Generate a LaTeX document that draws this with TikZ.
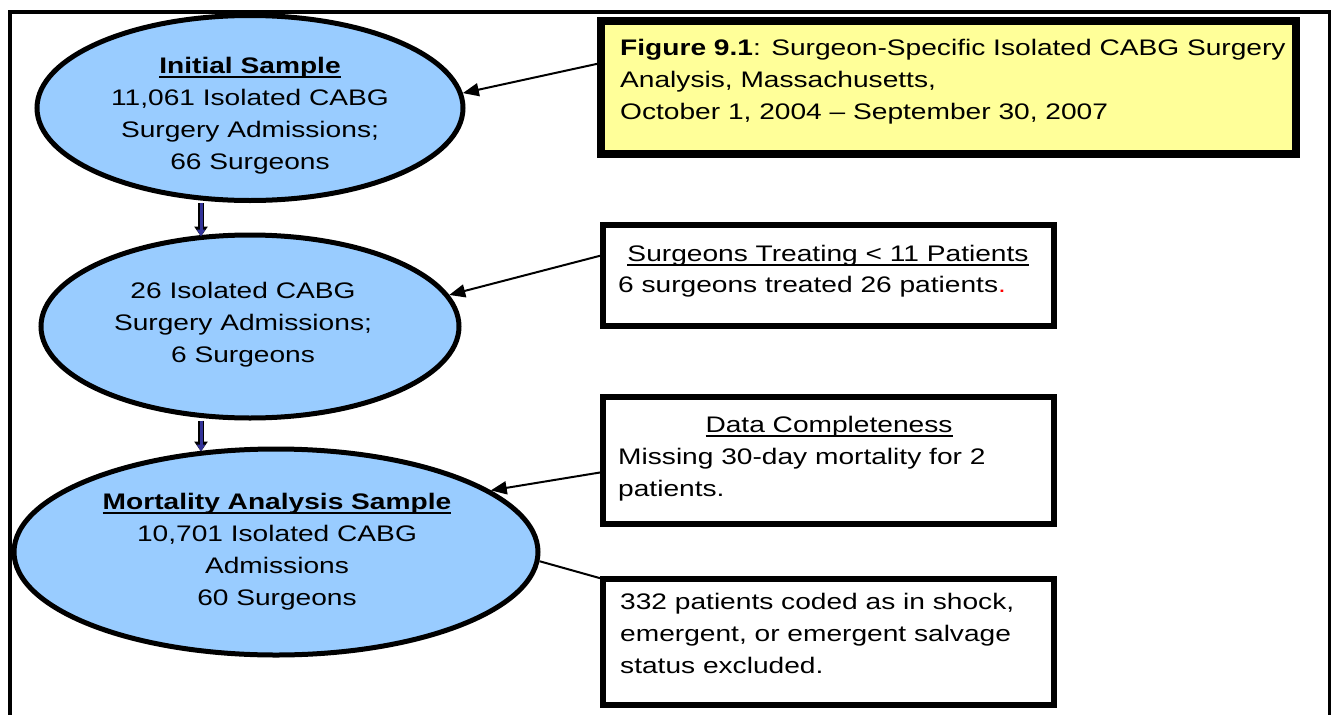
\documentclass[tikz,border=0pt]{standalone}
\usepackage{fontspec}
\setmainfont[FakeStretch=1.25]{Liberation Sans}
\usetikzlibrary{arrows.meta,shapes.geometric}
\definecolor{ellblue}{HTML}{99CCFF}
\definecolor{boxyellow}{HTML}{FFFF99}
\definecolor{flownavy}{HTML}{333399}
\newsavebox\ulbox
\newcommand\myul[1]{\sbox\ulbox{#1}\rlap{\rule[-5pt]{\wd\ulbox}{2pt}}\usebox\ulbox}
\begin{document}
\begin{tikzpicture}[x=1pt,y=-1pt,
  txt/.style={font=\fontsize{22.5}{32}\selectfont},
  ell/.style={ellipse, draw=black, line width=5pt, fill=ellblue, inner sep=0pt},
  infobox/.style={rectangle, draw=black, line width=6pt, fill=white, outer sep=0pt, inner sep=0pt},
  conn/.style={line width=2pt, -{Triangle[length=16pt,width=13pt]}},
  vflow/.style={line width=3pt, draw=flownavy, -{Triangle[length=7pt,width=8pt]},
    preaction={draw=black, line width=6pt, -{Triangle[length=10pt,width=13pt]}}},
  lbl/.style={txt, inner sep=0pt}]
\useasboundingbox (0,0) rectangle (1331,715);
\fill[white] (0,0) rectangle (1331,715);
\draw[line width=4pt] (10,720) -- (10,12) -- (1329.5,12) -- (1329.5,720);

% ellipses
\node[ell, minimum width=426pt, minimum height=185pt] (e1) at (250,108) {};
\node[ell, minimum width=418pt, minimum height=183pt] (e2) at (250,326.5) {};
\node[ell, minimum width=524pt, minimum height=206pt] (e3) at (276,552) {};

% multi-line nodes: base anchor = baseline of the last line
\node[lbl, align=center, anchor=base] (e1t) at (250,169)
  {\myul{\textbf{Initial Sample}}\\11,061 Isolated CABG\\Surgery Admissions;\\66 Surgeons};
\node[lbl, align=center, anchor=base] (e2t) at (243,362)
  {26 Isolated CABG\\Surgery Admissions;\\6 Surgeons};
\node[lbl, align=center, anchor=base] (e3t) at (277,605)
  {\myul{\textbf{Mortality Analysis Sample}}\\10,701 Isolated CABG\\Admissions\\60 Surgeons};

% boxes
\node[infobox, line width=8pt, fill=boxyellow, minimum width=695pt, minimum height=133pt] (yb) at (948.5,87.5) {};
\node[infobox, minimum width=451pt, minimum height=101pt] (b2) at (828.5,275.5) {};
\node[infobox, minimum width=451pt, minimum height=127pt] (b3) at (828.5,460.5) {};
\node[infobox, minimum width=451pt, minimum height=126pt] (b4) at (828.5,642) {};

\node[lbl, align=left, anchor=base west] (ybt) at (620,119)
  {\textbf{Figure 9.1}: Surgeon-Specific Isolated CABG Surgery\\Analysis, Massachusetts,\\October 1, 2004 – September 30, 2007};
\node[lbl, anchor=base] (b2h) at (828,261) {\myul{Surgeons Treating < 11 Patients}};
\node[lbl, anchor=base west] (b2t) at (618,292) {6 surgeons treated 26 patients\textcolor{red}{.}};
\node[lbl, anchor=base] (b3h) at (829,432) {\myul{Data Completeness}};
\node[lbl, align=left, anchor=base west] (b3t) at (618,496) {Missing 30-day mortality for 2\\patients.};
\node[lbl, align=left, anchor=base west] (b4t) at (620,673)
  {332 patients coded as in shock,\\emergent, or emergent salvage\\status excluded.};

% connectors
\draw[conn] ([yshift=-42pt]yb.north west) -- (e1.4);
\draw[conn] ([yshift=-30pt]b2.north west) -- (e2.9);
\draw[conn] ([yshift=-75pt]b3.north west) -- (e3.16);
\draw[line width=2pt] (e3.-2.5) -- (b4.north west);

\draw[vflow] ([xshift=-49pt]e1.south) -- ([xshift=-49pt,yshift=-4pt]e2.north);
\draw[vflow] ([xshift=-49pt]e2.south) -- ([xshift=-75pt,yshift=-5pt]e3.north);
\end{tikzpicture}
\end{document}
